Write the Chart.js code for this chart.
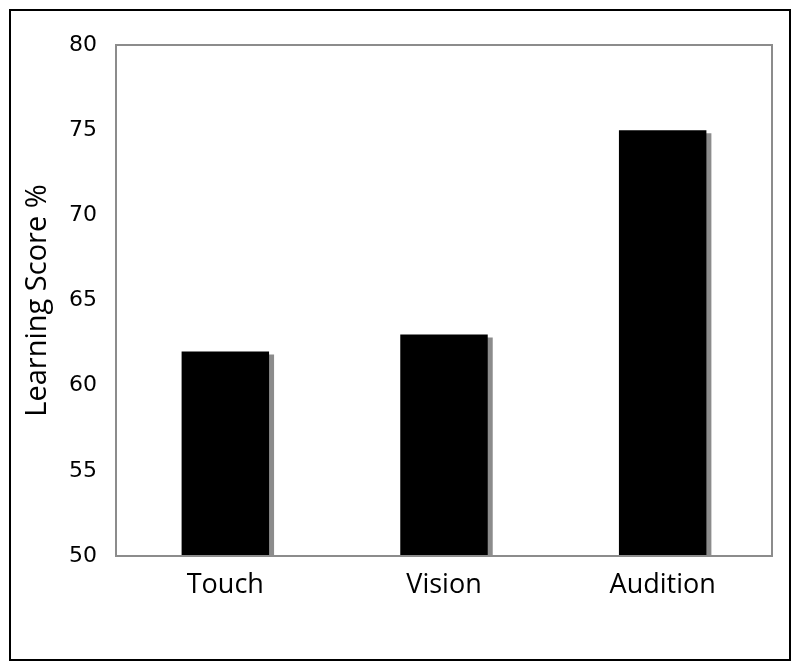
<!DOCTYPE html>
<html>
<head>
<meta charset="utf-8">
<script src="https://cdn.jsdelivr.net/npm/chart.js@4"></script>
<style>
  html, body { margin: 0; padding: 0; background: #fff; }
  #wrap { width: 800px; height: 672px; }
</style>
</head>
<body>
<div id="wrap"><canvas id="scoreChart" width="800" height="672"></canvas></div>
<script>
const categories = ['Touch', 'Vision', 'Audition'];
const scores = [62, 63, 75];
const yTicks = [50, 55, 60, 65, 70, 75, 80];

// grey drop shadow under each bar
const barShadow = {
  id: 'barShadow',
  beforeDatasetDraw(chart) {
    const ctx = chart.ctx;
    ctx.save();
    ctx.shadowColor = '#8c8c8c';
    ctx.shadowOffsetX = 5;
    ctx.shadowOffsetY = 3;
    ctx.shadowBlur = 0;
  },
  afterDatasetDraw(chart) {
    chart.ctx.restore();
  }
};

// plot box and outer frame
const frames = {
  id: 'frames',
  afterDraw(chart) {
    const ctx = chart.ctx;
    const a = chart.chartArea;
    ctx.save();
    ctx.strokeStyle = '#8c8c8c';
    ctx.lineWidth = 2;
    ctx.strokeRect(a.left, a.top, a.right - a.left, a.bottom - a.top);
    ctx.strokeStyle = '#000';
    ctx.lineWidth = 2;
    ctx.strokeRect(10, 10, 780, 650);
    ctx.restore();
  }
};

new Chart(document.getElementById('scoreChart').getContext('2d'), {
  type: 'bar',
  data: {
    labels: categories,
    datasets: [{
      data: scores,
      backgroundColor: '#000',
      borderWidth: 0,
      barPercentage: 0.4,
      categoryPercentage: 1
    }]
  },
  options: {
    responsive: false,
    animation: false,
    layout: { padding: { top: 45, right: 28, left: 0, bottom: 0 } },
    plugins: {
      legend: { display: false },
      tooltip: { enabled: false }
    },
    scales: {
      x: {
        grid: { display: false, drawTicks: false },
        border: { display: false },
        ticks: {
          color: '#000',
          padding: 13,
          font: { family: 'Open Sans', size: 27 }
        },
        afterFit(s) { s.height = 116; }
      },
      y: {
        min: 50,
        max: 80,
        grid: { display: false, drawTicks: false },
        border: { display: false },
        afterBuildTicks(s) { s.ticks = yTicks.map(v => ({ value: v })); },
        ticks: {
          color: '#000',
          padding: 19,
          font: { family: 'DejaVu Sans', size: 22 }
        },
        title: {
          display: true,
          text: 'Learning Score %',
          color: '#000',
          padding: { top: 20, bottom: 0 },
          font: { family: 'Open Sans', size: 29 }
        },
        afterFit(s) { s.width = 116; }
      }
    }
  },
  plugins: [barShadow, frames]
});
</script>
</body>
</html>
